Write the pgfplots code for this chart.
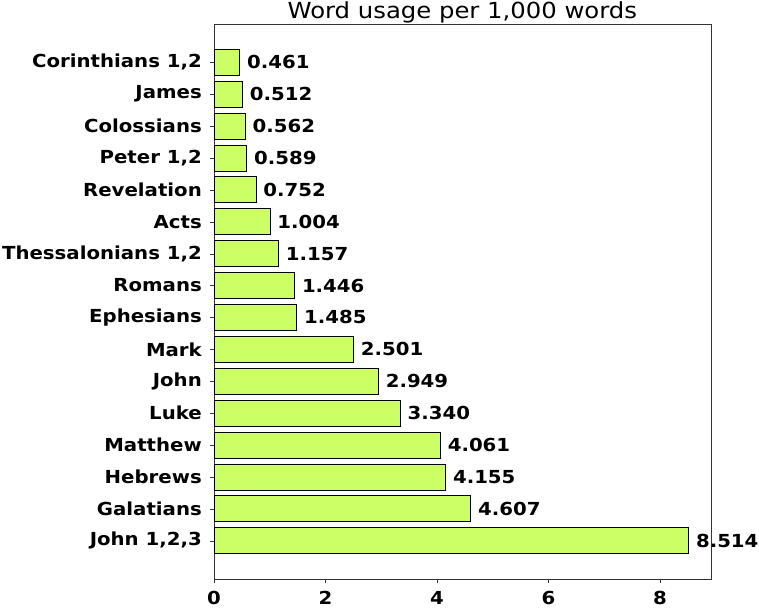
\documentclass[border=0pt]{standalone}
\usepackage{pgfplots}
\pgfplotsset{compat=1.18}
\usepackage{fontspec}
\setmainfont{DejaVu Sans}
\newfontfamily\labfont[FakeStretch=1.1]{DejaVu Sans Bold}
\newfontfamily\titlefont[FakeStretch=1.1]{DejaVu Sans}
\definecolor{barfill}{HTML}{CCFF66}
\definecolor{axisgray}{HTML}{333333}

\begin{document}
\begin{tikzpicture}
  \begin{axis}[
      scale only axis,
      width=496.7bp,
      height=555bp,
      xbar,
      bar width=26bp,
      xmin=0, xmax=8.91,
      ymin=-1.2, ymax=16.2,
      xtick={0,2,4,6,8},
      ytick=data,
      yticklabels={John 1{,}2{,}3, Galatians, Hebrews, Matthew, Luke, John, Mark,
        Ephesians, Romans, Thessalonians 1{,}2, Acts, Revelation, Peter 1{,}2,
        Colossians, James, Corinthians 1{,}2},
      tick align=outside,
      xtick pos=bottom,
      ytick pos=left,
      major tick length=4bp,
      axis line style={axisgray},
      tick style={axisgray},
      /pgf/number format/assume math mode=true,
      tick label style={font=\fontsize{18}{20}\labfont, inner sep=0pt},
      yticklabel style={xshift=-8bp},
      xticklabel style={yshift=-8bp},
      title={Word usage per 1,000 words},
      title style={font=\fontsize{22.2}{24}\titlefont, inner sep=0pt, overlay,
        at={(0.5,1)}, anchor=base, yshift=-0.3bp},
      nodes near coords,
      point meta=explicit symbolic,
      nodes near coords style={font=\fontsize{18}{20}\labfont, inner sep=0pt,
        anchor=west, xshift=7bp},
    ]
    \addplot[draw=black, fill=barfill, line width=0.8pt]
    table[x=v, y=i, meta=lab, row sep=\\] {
      i   v      lab   \\
      0   8.514  8.514 \\
      1   4.607  4.607 \\
      2   4.155  4.155 \\
      3   4.061  4.061 \\
      4   3.340  3.340 \\
      5   2.949  2.949 \\
      6   2.501  2.501 \\
      7   1.485  1.485 \\
      8   1.446  1.446 \\
      9   1.157  1.157 \\
      10  1.004  1.004 \\
      11  0.752  0.752 \\
      12  0.589  0.589 \\
      13  0.562  0.562 \\
      14  0.512  0.512 \\
      15  0.461  0.461 \\
    };
  \end{axis}
  \path (current axis.south west) ++(-214bp,-30bp) (current axis.north east) ++(48.3bp,24bp);
\end{tikzpicture}
\end{document}
